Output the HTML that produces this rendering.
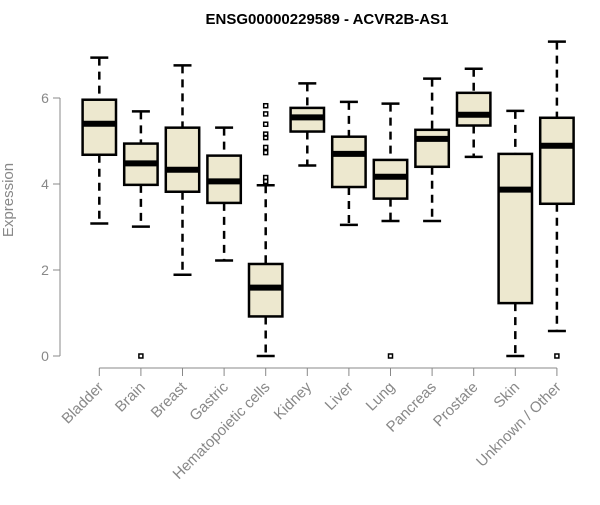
<!DOCTYPE html>
<html><head><meta charset="utf-8"><style>
body{margin:0;background:#fff;}
svg text{font-family:"Liberation Sans",sans-serif;}
</style></head><body>
<svg id="chart" width="600" height="500" xmlns="http://www.w3.org/2000/svg">
<text x="327" y="24" text-anchor="middle" font-size="15" font-weight="bold" fill="#000">ENSG00000229589 - ACVR2B-AS1</text>
<text transform="translate(13,200) rotate(-90)" text-anchor="middle" font-size="15" fill="#888">Expression</text>
<g id="plot"></g>
</svg>
<script>
const categories=["Bladder","Brain","Breast","Gastric","Hematopoietic cells","Kidney","Liver","Lung","Pancreas","Prostate","Skin","Unknown / Other"];
const lowWhisker=[3.08,3.01,1.89,2.22,0,4.43,3.05,3.14,3.14,4.63,0,0.58];
const q1=[4.68,3.98,3.82,3.56,0.92,5.22,3.93,3.66,4.40,5.36,1.23,3.54];
const medians=[5.40,4.48,4.33,4.06,1.59,5.55,4.70,4.17,5.05,5.61,3.87,4.89];
const q3=[5.96,4.94,5.31,4.66,2.14,5.77,5.10,4.56,5.26,6.12,4.70,5.54];
const highWhisker=[6.94,5.69,6.76,5.31,3.97,6.34,5.91,5.87,6.45,6.68,5.70,7.31];
const outliers=[[],[0],[],[],[5.82,5.63,5.39,5.16,5.08,4.85,4.73,4.15,4.06],[],[],[0],[],[],[],[0]];
const yTicks=[0,2,4,6];
const NS="http://www.w3.org/2000/svg";
const g=document.getElementById('plot');
function y(v){return 356-v*43;}
function x(i){return 99.3+i*41.6;}
function mk(t,a){const e=document.createElementNS(NS,t);for(const k in a)e.setAttribute(k,a[k]);g.appendChild(e);return e;}
let ax=mk('line',{x1:60,x2:60,y1:y(6),y2:y(0),stroke:'#888','stroke-width':1});


yTicks.forEach(t=>{
 let l=mk('line',{x1:53,x2:60,y1:y(t),y2:y(t),stroke:'#888'});
 
 
 let tx=mk('text',{x:45,y:y(t),'text-anchor':'middle','dominant-baseline':'central','font-size':14,fill:'#888'});
 tx.textContent=t;
 
 
});
let xa=mk('line',{x1:x(0),x2:x(categories.length-1),y1:368,y2:368,stroke:'#888'});


const hw=16.7;
categories.forEach((c,i)=>{
 const cx=x(i);
 let tk=mk('line',{x1:cx,x2:cx,y1:368,y2:376,stroke:'#888'});
 
 
 let lb=mk('text',{transform:`translate(${cx+5},388) rotate(-45)`,'text-anchor':'end','font-size':15,fill:'#888'});
 lb.textContent=c;
 
 
 const bg=document.createElementNS(NS,'g');g.appendChild(bg);
 
 
 const add=(t,a)=>{const e=document.createElementNS(NS,t);for(const k in a)e.setAttribute(k,a[k]);bg.appendChild(e);return e;};
 add('line',{x1:cx,x2:cx,y1:y(highWhisker[i]),y2:y(q3[i]),stroke:'#000','stroke-width':2.5,'stroke-dasharray':'8,6'});
 add('line',{x1:cx,x2:cx,y1:y(q1[i]),y2:y(lowWhisker[i]),stroke:'#000','stroke-width':2.5,'stroke-dasharray':'8,6'});
 add('line',{x1:cx-9,x2:cx+9,y1:y(highWhisker[i]),y2:y(highWhisker[i]),stroke:'#000','stroke-width':2.5});
 add('line',{x1:cx-9,x2:cx+9,y1:y(lowWhisker[i]),y2:y(lowWhisker[i]),stroke:'#000','stroke-width':2.5});
 add('rect',{x:cx-hw,y:y(q3[i]),width:hw*2,height:y(q1[i])-y(q3[i]),fill:'#ede8cf',stroke:'#000','stroke-width':2.5});
 add('line',{x1:cx-hw,x2:cx+hw,y1:y(medians[i]),y2:y(medians[i]),stroke:'#000','stroke-width':6});
 outliers[i].forEach(o=>{add('rect',{x:cx-2,y:y(o)-2,width:4,height:4,fill:'none',stroke:'#000','stroke-width':1.5});});
});
</script>
</body></html>
